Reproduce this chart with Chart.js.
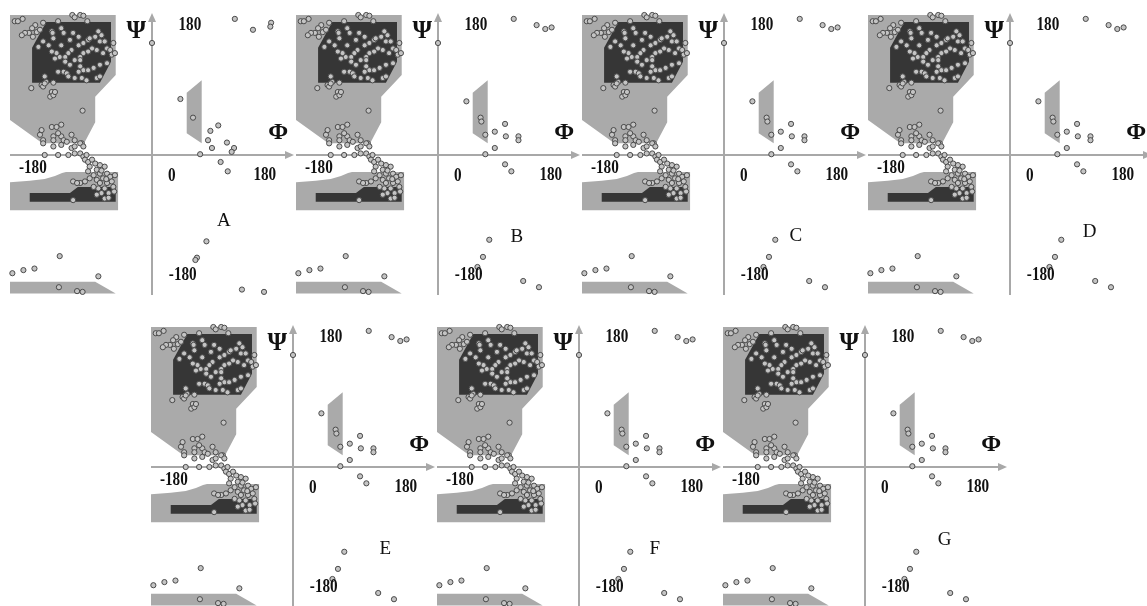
<!DOCTYPE html>
<html><head><meta charset="utf-8">
<script src="https://cdn.jsdelivr.net/npm/chart.js@4.4.1/dist/chart.umd.min.js"></script>
<style>
html,body{margin:0;padding:0;background:#fff;overflow:hidden;width:1147px;height:606px;position:relative}
canvas{position:absolute}
</style></head><body>
<script>
// ---- regions (phi, psi in degrees) ----
const regionAllowedTop = [[-180,180],[-46,180],[-46,103],[-72,75],[-72,42],[-86,15],[-139,15],[-180,45]];
const regionCoreTop = [[-134,171],[-52,171],[-52,120],[-66,93],[-152,93],[-152,138]];
const regionAllowedLow = [[-180,-35],[-155,-33],[-136,-31],[-123,-27],[-114,-23],[-109,-22],[-43,-22],[-43,-71],[-180,-71]];
const regionCoreLow = [[-155,-49],[-104,-49],[-94,-41],[-46,-41],[-46,-60],[-155,-60]];
const regionStrip = [[-180,-163],[-72,-163],[-46,-178],[-180,-178]];
const regionLeft = [[44,80],[63,96],[63,15],[44,28]];

// ---- residues (phi, psi) ----
const betaPts = [[-127,159],[-126,157],[-115,163],[-112,157],[-125,150],[-138,146],[-131,141],[-144,139],[-115,141],[-104,148],[-100,157],[-93,152],[-93,141],[-87,144],[-81,148],[-79,150],[-68,159],[-64,154],[-72,152],[-66,146],[-60,146],[-57,137],[-53,135],[-51,129],[-49,144],[-47,131],[-62,131],[-70,135],[-76,137],[-81,133],[-87,131],[-91,126],[-102,135],[-106,131],[-110,126],[-117,126],[-121,131],[-127,133],[-123,124],[-110,120],[-98,122],[-91,122],[-104,116],[-91,114],[-87,109],[-93,107],[-81,109],[-74,112],[-66,116],[-57,118],[-112,107],[-108,105],[-119,107],[-106,101],[-98,99],[-89,99],[-83,96],[-70,99],[-66,101],[-136,101],[-134,94],[-140,90],[-138,88],[-127,81],[-129,75],[-125,77],[-153,86],[-136,92],[-123,81],[-125,93]];
const edgePts = [[-174,172],[-170,172],[-164,175],[-138,170],[-148,167],[-152,163],[-156,157],[-161,157],[-165,154],[-146,158],[-142,161],[-151,152],[-119,172],[-101,180],[-98,177],[-91,180],[-87,179],[-82,172]];
const neckPts = [[-88,57],[-140,32],[-127,36],[-115,39],[-121,36],[-142,26],[-125,24],[-115,24],[-102,26],[-98,19],[-89,15],[-119,28],[-125,19],[-112,19],[-138,19]];
const bridgePts = [[-138,15],[-125,11],[-115,13],[-108,17],[-102,9],[-98,11],[-91,15],[-87,11],[-136,0],[-119,0],[-106,0],[-98,2],[-91,2],[-87,-2],[-83,0],[-85,-6],[-81,-9],[-76,-6],[-72,-11],[-66,-13],[-60,-15],[-79,-15]];
const alphaPts = [[-70,-19],[-81,-21],[-74,-26],[-66,-24],[-57,-24],[-53,-28],[-62,-30],[-70,-32],[-79,-30],[-85,-34],[-91,-36],[-100,-34],[-95,-36],[-66,-36],[-57,-36],[-51,-34],[-49,-41],[-60,-43],[-68,-43],[-74,-41],[-64,-49],[-55,-49],[-70,-51],[-60,-56],[-100,-58],[-47,-26],[-55,-55],[-48,-47],[-64,-20],[-58,-31]];
const stripPts = [[-177,-152],[-163,-148],[-149,-146],[-117,-130],[-68,-156],[-118,-170],[-95,-175],[-88,-176]];
const rightPtsA = [[36,72],[52,48],[84,38],[74,31],[71,19],[76,9],[95,16],[104,9],[101,4],[61,1],[87,-9],[96,-21],[105,175],[128,161],[151,170],[150,165],[0,144],[69,-111],[57,-132],[55,-135],[114,-173],[142,-176]];
const rightPtsB = [[36,69],[54,48],[55,43],[60,26],[72,30],[85,40],[86,24],[102,24],[102,19],[72,9],[60,1],[85,-12],[93,-21],[96,175],[125,167],[136,162],[144,164],[0,144],[65,-109],[57,-131],[50,-144],[108,-162],[128,-170]];

// ---- tick labels ----
const tickTexts = ['180','0','180','-180','-180'];
const tickAt = [[48,167],[25,-27],[143,-26],[-151,-17],[39,-154]];
const panelLetters = ['A','B','C','D','E','F','G'];
const letterAt = [[91,-85],[100,-105],[91,-104],[101,-99],[117,-105],[96,-105],[101,-94]];
const panelPos = [[152,155],[438,155],[724,155],[1010,155],[293,467],[579,467],[865,467]];

const LIGHT='#aaaaaa', DARK='#363636', AXIS='#a8a8a8';
const toXY = a => a.map(p => ({x:p[0], y:p[1]}));
const closed = a => toXY(a.concat([a[0]]));

function regionDs(arr, color, order){
  return {type:'scatter', data:closed(arr), showLine:true, fill:'shape', backgroundColor:color,
    borderColor:color, borderWidth:0, pointRadius:0, order:order, clip:false, tension:0};
}

function drawAxes(chart){
  const xs=chart.scales.x, ys=chart.scales.y, c=chart.ctx;
  const xl=xs.getPixelForValue(-180), xr=xs.getPixelForValue(180), xm=xs.getPixelForValue(0);
  const ym=ys.getPixelForValue(0), yt=ys.getPixelForValue(180), yb=ys.getPixelForValue(-180);
  c.save();
  c.strokeStyle=AXIS; c.fillStyle=AXIS; c.lineWidth=2;
  c.beginPath(); c.moveTo(xl,ym); c.lineTo(xr-6,ym); c.stroke();
  c.beginPath(); c.moveTo(xr,ym); c.lineTo(xr-9,ym-4); c.lineTo(xr-9,ym+4); c.closePath(); c.fill();
  c.beginPath(); c.moveTo(xm,yb); c.lineTo(xm,yt+4); c.stroke();
  c.beginPath(); c.moveTo(xm,yt-2); c.lineTo(xm-4,yt+7); c.lineTo(xm+4,yt+7); c.closePath(); c.fill();
  c.restore();
}

function txt(c, s, x, y, font, sx){
  c.save(); c.translate(x,y); c.scale(sx,1); c.font=font; c.fillStyle='#111';
  c.textAlign='center'; c.textBaseline='middle'; c.fillText(s,0,0); c.restore();
}

const ramaPlugin = {
  id:'rama',
  beforeDatasetDraw(chart,args){ if(chart.data.datasets[args.index].label==='residues') drawAxes(chart); },
  afterDraw(chart){
    const xs=chart.scales.x, ys=chart.scales.y, c=chart.ctx, k=chart.options.plugins.rama.k;
    tickTexts.forEach((t,i)=>txt(c,t,xs.getPixelForValue(tickAt[i][0]),ys.getPixelForValue(tickAt[i][1]),'bold 19px "Liberation Serif"',0.8));
    txt(c,'\u03A8',xs.getPixelForValue(-20),ys.getPixelForValue(159),'bold 25px "Liberation Serif"',1);
    txt(c,'\u03A6',xs.getPixelForValue(160),ys.getPixelForValue(28),'bold 24px "Liberation Serif"',1);
    txt(c,panelLetters[k],xs.getPixelForValue(letterAt[k][0]),ys.getPixelForValue(letterAt[k][1]),'19px "Liberation Serif"',1);
  }
};

panelPos.forEach((p,k)=>{
  const cv=document.createElement('canvas');
  cv.width=300; cv.height=300;
  cv.style.left=(p[0]-150)+'px'; cv.style.top=(p[1]-152)+'px';
  cv.style.width='300px'; cv.style.height='300px';
  document.body.appendChild(cv);
  const pts = betaPts.concat(edgePts,neckPts,bridgePts,alphaPts,stripPts, k===0?rightPtsA:rightPtsB);
  new Chart(cv,{
    type:'scatter',
    data:{datasets:[
      {label:'residues', data:toXY(pts), pointRadius:2.6, pointBackgroundColor:'#c4c4c4', pointBorderColor:'#4a4a4a', pointBorderWidth:1, order:0, clip:false},
      regionDs(regionCoreTop,DARK,2), regionDs(regionCoreLow,DARK,2),
      regionDs(regionAllowedTop,LIGHT,3), regionDs(regionAllowedLow,LIGHT,3), regionDs(regionStrip,LIGHT,3), regionDs(regionLeft,LIGHT,3)
    ]},
    options:{
      responsive:false, animation:false, devicePixelRatio:1,
      layout:{padding:{left:8,right:8,top:12,bottom:8}},
      scales:{x:{type:'linear',min:-180,max:180,display:false},y:{type:'linear',min:-180,max:180,display:false}},
      plugins:{legend:{display:false},tooltip:{enabled:false},rama:{k:k}},
      events:[]
    },
    plugins:[ramaPlugin]
  });
});
</script>
</body></html>
